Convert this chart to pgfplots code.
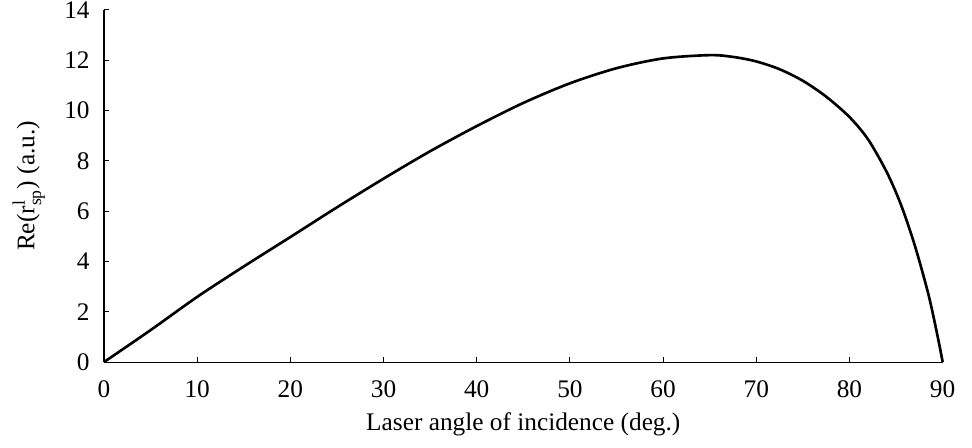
\documentclass[border=0pt]{standalone}
\usepackage{amsmath}
\usepackage{fontspec}
\setmainfont{Liberation Serif}
\usepackage{pgfplots}
\pgfplotsset{compat=1.18}

\begin{document}
\begin{tikzpicture}
\begin{axis}[
  scale only axis,
  width=381pt, height=160pt,
  xmin=0, xmax=90, ymin=0, ymax=14,
  xtick={0,10,...,90}, ytick={0,2,...,14},
  axis lines*=left,
  tick align=inside,
  major tick length=2.5pt,
  tick style={black, line width=0.5pt},
  axis line style={line width=0.5pt},
  /pgf/number format/assume math mode=true,
  ticklabel style={font=\fontsize{11.5}{13}\selectfont},
  label style={font=\fontsize{11.5}{13}\selectfont},
  xticklabel style={yshift=-5pt},
  yticklabel style={xshift=-3pt},
  xlabel={Laser angle of incidence (deg.)},
  ylabel={Re(r$^{\text{l}}_{\text{sp}}$) (a.u.)},
  xlabel style={yshift=0pt},
  ylabel style={yshift=2pt},
  clip=false,
]
\addplot[black, line width=1.2pt, smooth] table {
x y
0 0
5 1.27
10 2.59
15 3.80
20 4.97
25 6.15
30 7.29
35 8.38
40 9.38
45 10.30
50 11.08
55 11.68
60 12.07
65 12.20
67.5 12.13
70 11.95
72.5 11.64
75 11.18
77.5 10.55
80 9.74
82 8.85
84 7.55
85.5 6.28
87 4.65
88.5 2.65
89.5 0.95
90 0
};
\coordinate (bl) at (rel axis cs:-0.124,-0.244);
\coordinate (tr) at (rel axis cs:1.035,1.028);
\end{axis}
\pgfresetboundingbox
\path (bl) rectangle (tr);
\end{tikzpicture}
\end{document}
